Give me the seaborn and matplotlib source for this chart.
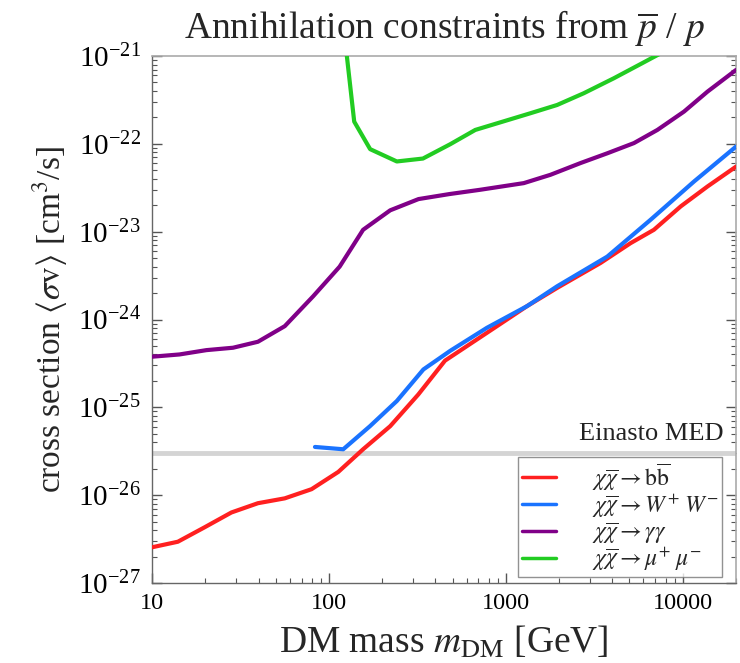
import numpy as np
import pandas as pd
import matplotlib
matplotlib.use("Agg")
import matplotlib.pyplot as plt
from matplotlib.ticker import LogLocator, LogFormatterMathtext, FixedLocator, FixedFormatter, NullFormatter
import seaborn as sns

# ---- data ----
bb_mass = [10, 14, 19.8, 28.1, 39.7, 56.3, 79.8, 113, 156, 222, 320, 453, 891, 1318, 1950, 3430, 5070, 6870, 9740, 13800, 20000]
bb_sv = [2.55e-27, 2.95e-27, 4.3e-27, 6.35e-27, 8.1e-27, 9.2e-27, 1.17e-26, 1.84e-26, 3.33e-26, 6.1e-26,
         1.4e-25, 3.4e-25, 8.4e-25, 1.42e-24, 2.29e-24, 4.4e-24, 7.4e-24, 1.05e-23, 1.94e-23, 3.27e-23, 5.5e-23]

ww_mass = [83.4, 120.5, 170.6, 242, 342, 485, 782, 1318, 1950, 3743, 6590, 11590, 20000]
ww_sv = [3.54e-26, 3.33e-26, 6.1e-26, 1.18e-25, 2.7e-25, 4.4e-25, 8.05e-25, 1.42e-24, 2.39e-24, 5.2e-24,
         1.37e-23, 3.73e-23, 9.3e-23]

gg_mass = [10, 14.3, 20.3, 28.7, 39.7, 56.3, 81.5, 115, 156, 222, 321, 480, 717, 1263, 1787, 2643, 3743, 5300, 7190, 10170, 13800, 20000]
gg_sv = [3.77e-25, 4.0e-25, 4.48e-25, 4.77e-25, 5.58e-25, 8.4e-25, 1.84e-24, 4.0e-24, 1.05e-23, 1.75e-23,
         2.35e-23, 2.68e-23, 3.0e-23, 3.57e-23, 4.44e-23, 6.04e-23, 7.8e-23, 1.02e-22, 1.44e-22, 2.33e-22,
         3.93e-22, 6.93e-22]

mumu_mass = [120, 139, 171, 242, 340, 485, 672, 1377, 1950, 2760, 4080, 5780, 7030, 10000]
mumu_sv = [2.5e-21, 1.79e-22, 8.7e-23, 6.3e-23, 6.8e-23, 9.9e-23, 1.44e-22, 2.23e-22, 2.77e-22, 3.77e-22,
           5.58e-22, 8.1e-22, 1.0e-21, 1.45e-21]

channels = [r"$\chi\overline{\chi} \rightarrow \mathrm{b}\overline{\mathrm{b}}$",
            r"$\chi\overline{\chi} \rightarrow W^{+}\; W^{-}$",
            r"$\chi\overline{\chi} \rightarrow \gamma\gamma$",
            r"$\chi\overline{\chi} \rightarrow \mu^{+}\; \mu^{-}$"]
colors = ["#ff2020", "#1a73ff", "#800088", "#22cc22"]

einasto_sv = 3.0e-26
x_ticks = [10, 100, 1000, 10000]
x_ticklabels = ["10", "100", "1000", "10000"]

# ---- build long table ----
frames = []
for name, m, s in zip(channels, [bb_mass, ww_mass, gg_mass, mumu_mass], [bb_sv, ww_sv, gg_sv, mumu_sv]):
    frames.append(pd.DataFrame({"mass": m, "sv": s, "channel": name}))
df = pd.concat(frames, ignore_index=True)

sns.set_theme(style="white")
plt.rcParams["font.family"] = ["Liberation Serif", "DejaVu Serif"]
plt.rcParams["mathtext.fontset"] = "stix"

fig = plt.figure(figsize=(7.4, 6.63), dpi=100)
ax = fig.add_axes([152/740, 1-583/663, (736-152)/740, (583-56)/663])

ax.axhline(einasto_sv, color="#d4d4d4", lw=3.5, zorder=1)

sns.lineplot(data=df, x="mass", y="sv", hue="channel", hue_order=channels,
             palette=dict(zip(channels, colors)), sort=False, estimator=None,
             lw=3, ax=ax, legend=True, zorder=3)

ax.set_xscale("log")
ax.set_yscale("log")
ax.set_xlim(10, 20000)
ax.set_ylim(1e-27, 1e-21)

ax.text(0.978, 0.262, "Einasto MED", transform=ax.transAxes, ha="right", va="bottom",
        fontsize=19, color="#222222")

ax.xaxis.set_major_locator(FixedLocator(x_ticks))
ax.xaxis.set_major_formatter(FixedFormatter(x_ticklabels))
ax.xaxis.set_minor_locator(LogLocator(base=10, subs=np.arange(2, 10)))
ax.xaxis.set_minor_formatter(NullFormatter())
ax.yaxis.set_major_locator(FixedLocator([1e-27, 1e-26, 1e-25, 1e-24, 1e-23, 1e-22, 1e-21]))
ax.yaxis.set_major_formatter(LogFormatterMathtext())
ax.yaxis.set_minor_locator(LogLocator(base=10, subs=np.arange(2, 10), numticks=20))
ax.yaxis.set_minor_formatter(NullFormatter())

ax.tick_params(axis="both", which="both", direction="in", colors="#555555", labelcolor="black",
               right=True, top=False, left=True, bottom=True)
ax.tick_params(axis="x", labelsize=17.5, pad=7)
ax.tick_params(axis="y", labelsize=21, pad=8)
ax.tick_params(which="major", length=7, width=1)
ax.tick_params(which="minor", length=3.5, width=0.8)

for side in ["left", "bottom"]:
    ax.spines[side].set_color("#666666")
    ax.spines[side].set_linewidth(1.0)
for side in ["top", "right"]:
    ax.spines[side].set_color("#aaaaaa")
    ax.spines[side].set_linewidth(1.2)

ax.set_xlabel(r"DM mass $m_{\mathrm{DM}}$ [GeV]", fontsize=27, labelpad=8)
ax.set_ylabel(r"cross section $\langle\sigma\mathrm{v}\rangle$ [cm$^3$/s]", fontsize=24, labelpad=6)
ax.set_title(r"Annihilation constraints from $\overline{p}$ / $p$", fontsize=27, pad=12)

leg = ax.legend(loc="lower right", bbox_to_anchor=(0.976, 0.012), frameon=True, fancybox=False,
                fontsize=17, handlelength=1.45, handletextpad=1.5, labelspacing=0.0,
                borderpad=0.15, borderaxespad=0)
leg.get_frame().set_edgecolor("#777777")
leg.get_frame().set_linewidth(1.0)
for line in leg.get_lines():
    line.set_linewidth(2.5)

fig.savefig("out.png", dpi=100)
